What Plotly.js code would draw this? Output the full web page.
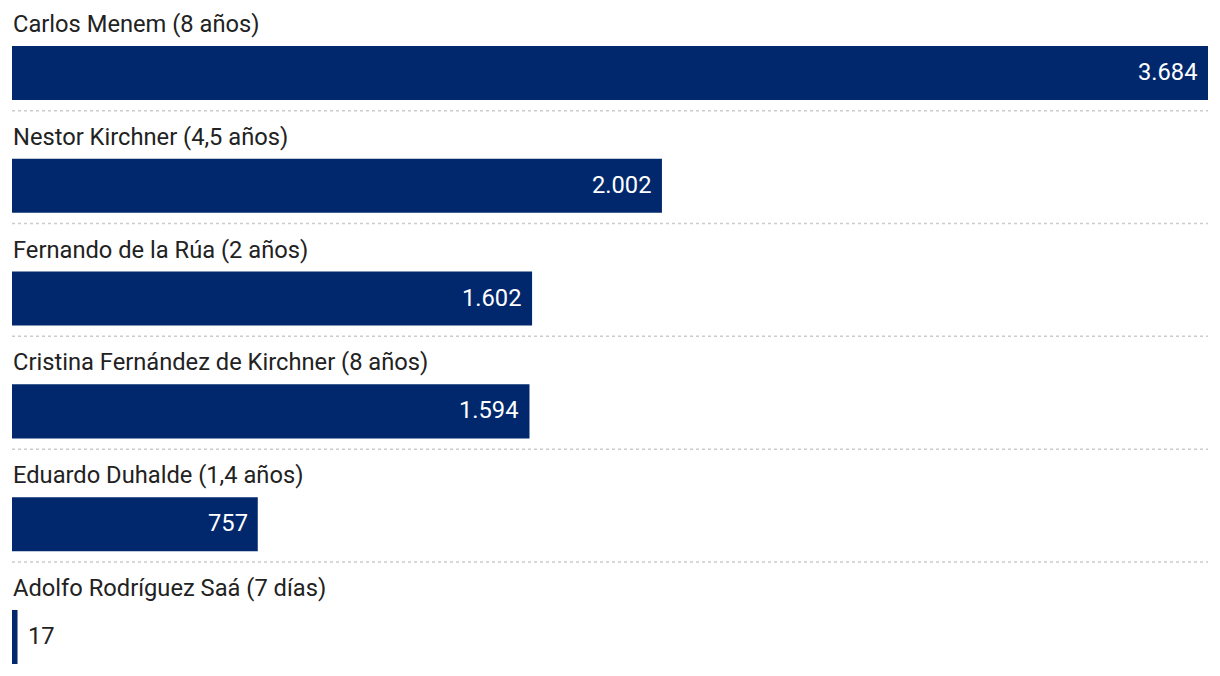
<!DOCTYPE html>
<html>
<head>
<meta charset="utf-8">
<script src="https://cdn.plot.ly/plotly-3.0.1.min.js"></script>
<style>html,body{margin:0;padding:0;background:#fff;}#chart{width:1220px;height:676px;}</style>
</head>
<body>
<div id="chart"></div>
<script>
const categories = [
  "Carlos Menem (8 años)",
  "Nestor Kirchner (4,5 años)",
  "Fernando de la Rúa (2 años)",
  "Cristina Fernández de Kirchner (8 años)",
  "Eduardo Duhalde (1,4 años)",
  "Adolfo Rodríguez Saá (7 días)"
];
const values = [3684, 2002, 1602, 1594, 757, 17];

const barColor = "#01286c";
const fmt = v => v.toLocaleString("de-DE");
const maxV = Math.max(...values);

const trace = {
  type: "bar",
  orientation: "h",
  x: values,
  y: categories.map((c, i) => i),
  marker: {color: barColor},
  width: 0.479,
  hoverinfo: "skip"
};

const annotations = [];
const shapes = [];
categories.forEach((c, i) => {
  annotations.push({
    x: 0, xref: "x", y: i, yref: "y",
    text: c, showarrow: false,
    xanchor: "left", yanchor: "middle",
    yshift: 49, xshift: -1,
    font: {family: "Roboto", size: 23.7, color: "#222222"}
  });
  const inside = values[i] > maxV * 0.05;
  annotations.push({
    x: values[i], xref: "x", y: i, yref: "y",
    text: fmt(values[i]), showarrow: false,
    xanchor: inside ? "right" : "left", yanchor: "middle",
    xshift: inside ? -8 : 8, yshift: 1,
    font: {family: "Roboto", size: 23.7, color: inside ? "#ffffff" : "#222222"}
  });
  if (i < categories.length - 1) {
    shapes.push({
      type: "line", xref: "paper", yref: "y",
      x0: 0, x1: 1, y0: i + 0.335, y1: i + 0.335,
      line: {color: "#cccccc", width: 1.5, dash: "dot"}
    });
  }
});

const layout = {
  width: 1220, height: 676,
  margin: {l: 12, r: 12, t: 0, b: 0, pad: 0},
  paper_bgcolor: "#ffffff", plot_bgcolor: "#ffffff",
  showlegend: false,
  xaxis: {range: [0, maxV], visible: false, fixedrange: true},
  yaxis: {range: [5.346, -0.647], visible: false, fixedrange: true},
  annotations: annotations,
  shapes: shapes,
  hovermode: false
};

Plotly.newPlot("chart", [trace], layout, {displayModeBar: false, staticPlot: true});
</script>
</body>
</html>
